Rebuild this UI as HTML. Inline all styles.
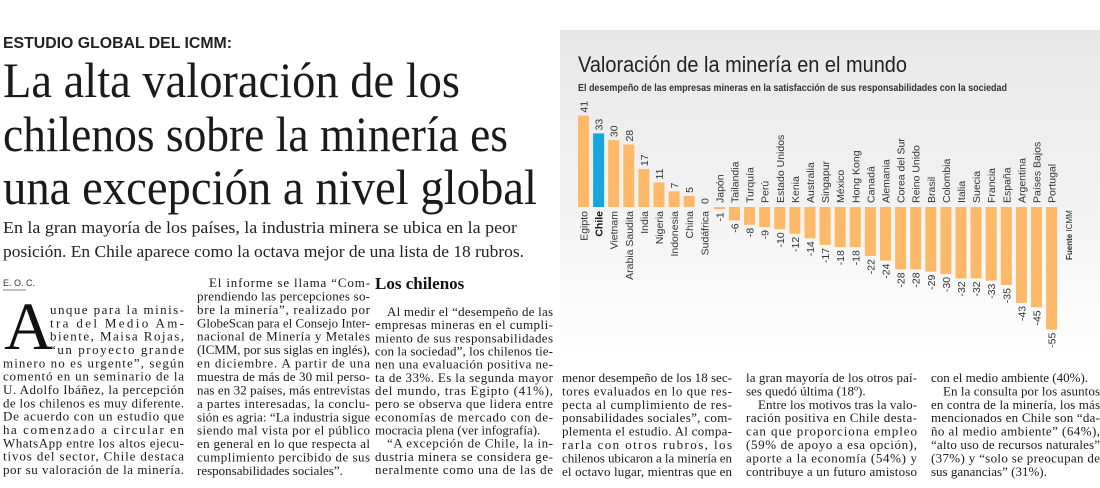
<!DOCTYPE html>
<html><head><meta charset="utf-8">
<style>
html,body{margin:0;padding:0;background:#fff;}
svg{display:block;}
.body{font-family:"Liberation Serif",serif;font-size:13px;fill:#1a1a1a;}
.lbl{font-family:"Liberation Sans",sans-serif;font-size:10.5px;fill:#333;}
</style></head>
<body>
<svg id="page" width="1100" height="488" viewBox="0 0 1100 488" xmlns="http://www.w3.org/2000/svg">
<defs>
<linearGradient id="bg" x1="0" y1="0" x2="0" y2="1">
<stop offset="0" stop-color="#e8e8e8"/><stop offset="0.55" stop-color="#f3f3f3"/><stop offset="1" stop-color="#ffffff"/>
</linearGradient>
</defs>
<text x="3" y="48" textLength="229" lengthAdjust="spacingAndGlyphs" style="font-family:'Liberation Sans',sans-serif;font-weight:bold;font-size:16px;fill:#222">ESTUDIO GLOBAL DEL ICMM:</text>
<g style="font-family:'Liberation Serif',serif;font-size:50px;fill:#1a1a1a">
<text x="3" y="97" textLength="457" lengthAdjust="spacingAndGlyphs">La alta valoración de los</text>
<text x="3" y="151" textLength="505" lengthAdjust="spacingAndGlyphs">chilenos sobre la minería es</text>
<text x="3" y="204" textLength="534" lengthAdjust="spacingAndGlyphs">una excepción a nivel global</text>
</g>
<g style="font-family:'Liberation Serif',serif;font-size:17px;fill:#222">
<text x="3" y="233" textLength="514" lengthAdjust="spacingAndGlyphs">En la gran mayoría de los países, la industria minera se ubica en la peor</text>
<text x="3" y="257" textLength="521" lengthAdjust="spacingAndGlyphs">posición. En Chile aparece como la octava mejor de una lista de 18 rubros.</text>
</g>
<text x="3" y="286" style="font-family:'Liberation Sans',sans-serif;font-size:9px;fill:#333">E. O. C.</text>
<line x1="3" y1="290" x2="26" y2="290" stroke="#555" stroke-width="0.8"/>
<text x="4" y="349" style="font-family:'Liberation Serif',serif;font-size:68px;fill:#111">A</text>
<text x="375" y="289" style="font-family:'Liberation Serif',serif;font-weight:bold;font-size:17px;fill:#111">Los chilenos</text>
<rect x="560" y="30" width="540" height="330" fill="url(#bg)"/>
<text x="578" y="72" textLength="329" lengthAdjust="spacingAndGlyphs" style="font-family:'Liberation Sans',sans-serif;font-size:22px;fill:#222">Valoración de la minería en el mundo</text>
<text x="578" y="91" textLength="429" lengthAdjust="spacingAndGlyphs" style="font-family:'Liberation Sans',sans-serif;font-weight:bold;font-size:10px;fill:#333">El desempeño de las empresas mineras en la satisfacción de sus responsabilidades con la sociedad</text>
<g id="bars"></g>
<text transform="translate(1072,260) rotate(-90)" style="font-family:'Liberation Sans',sans-serif;font-size:8px;fill:#333"><tspan font-weight="bold">Fuente</tspan> ICMM</text>
<g id="cols" class="body"></g>
</svg>
<script>
const countries = ["Egipto","Chile","Vietnam","Arabia Saudita","India","Nigeria","Indonesia","China","Sudáfrica","Japón","Tailandia","Turquía","Perú","Estado Unidos","Kenia","Australia","Singapur","México","Hong Kong","Canadá","Alemania","Corea del Sur","Reino Unido","Brasil","Colombia","Italia","Suecia","Francia","España","Argentina","Países Bajos","Portugal"];
const values = [41,33,30,28,17,11,7,5,0,-1,-6,-8,-9,-10,-12,-14,-17,-18,-18,-22,-24,-28,-28,-29,-30,-32,-32,-33,-35,-43,-45,-55];
const highlight = ["Chile"];

const NS = "http://www.w3.org/2000/svg";
const zeroY = 207, unit = 2.23, x0 = 578, pitch = 15.1, bw = 11;
const xPos = i => x0 + i * pitch;
const yPos = v => zeroY - v * unit;
const g = document.getElementById('bars');
function mk(tag, attrs){const e=document.createElementNS(NS,tag);for(const k in attrs)e.setAttribute(k,attrs[k]);return e;}
function rtext(x, y, str, anchor, bold){
  const t = mk('text',{transform:`translate(${x},${y}) rotate(-90)`,'text-anchor':anchor,class:'lbl'});
  if(bold){t.setAttribute('font-weight','bold');t.style.fill='#111';}
  t.textContent = str; return t;
}
countries.forEach((c,i)=>{
  const v = values[i], x = xPos(i), cx = x + bw/2;
  const top = Math.min(yPos(v), zeroY), h = Math.abs(yPos(v) - zeroY);
  const hl = highlight.includes(c);
  const r = mk('rect',{x:x,y:top,width:bw,height:Math.max(h,0),fill: hl ? '#16a5df' : '#fdb968'});
  
  
  g.appendChild(r);
  let vl, cl;
  if (v >= 0) {
    vl = rtext(cx+4, yPos(v)-3, String(v), 'start', false);
    cl = rtext(cx+4, zeroY+4, c, 'end', hl);
  } else {
    vl = rtext(cx+4, yPos(v)+3, String(v), 'end', false);
    cl = rtext(cx+4, zeroY-4, c, 'start', hl);
  }
  
  
  
  
  g.appendChild(vl); g.appendChild(cl);
});

const cols = [
 [50,184,310,13.33,["unque para la minis-","tra del Medio Am-","biente, Maisa Rojas,","“un proyecto grande"]],
 [3,184,363.3,13.33,["minero no es urgente”, según","comentó en un seminario de la","U. Adolfo Ibáñez, la percepción","de los chilenos es muy diferente.","De acuerdo con un estudio que","ha comenzado a circular en","WhatsApp entre los altos ejecu-","tivos del sector, Chile destaca","por su valoración de la minería."]],
 [197,370,283,13.43,[">El informe se llama “Com-","prendiendo las percepciones so-","bre la minería”, realizado por","GlobeScan para el Consejo Inter-","nacional de Minería y Metales","(ICMM, por sus siglas en inglés),","en diciembre. A partir de una","muestra de más de 30 mil perso-","nas en 32 países, más entrevistas","a partes interesadas, la conclu-","sión es agria: “La industria sigue","siendo mal vista por el público","en general en lo que respecta al","cumplimiento percibido de sus","responsabilidades sociales”.|"]],
 [375,553,312,13.17,[">Al medir el “desempeño de las","empresas mineras en el cumpli-","miento de sus responsabilidades","con la sociedad”, los chilenos tie-","nen una evaluación positiva ne-","ta de 33%. Es la segunda mayor","del mundo, tras Egipto (41%),","pero se observa que lidera entre","economías de mercado con de-","mocracia plena (ver infografía).|",">“A excepción de Chile, la in-","dustria minera se considera ge-","neralmente como una de las de"]],
 [562,732,378,13.4,["menor desempeño de los 18 sec-","tores evaluados en lo que res-","pecta al cumplimiento de res-","ponsabilidades sociales”, com-","plementa el estudio. Al compa-","rarla con otros rubros, los","chilenos ubicaron a la minería en","el octavo lugar, mientras que en"]],
 [746,917,378,13.4,["la gran mayoría de los otros paí-","ses quedó última (18º).|",">Entre los motivos tras la valo-","ración positiva en Chile desta-","can que proporciona empleo","(59% de apoyo a esa opción),","aporte a la economía (54%) y","contribuye a un futuro amistoso"]],
 [931,1100,378,13.4,["con el medio ambiente (40%).|",">En la consulta por los asuntos","en contra de la minería, los más","mencionados en Chile son “da-","ño al medio ambiente” (64%),","“alto uso de recursos naturales”","(37%) y “solo se preocupan de","sus ganancias” (31%).|"]]
];
const cg = document.getElementById('cols');
cols.forEach(([x,r,y0,lh,lines])=>{
  lines.forEach((ln,i)=>{
    let s = ln, xx = x, just = true;
    if (s.startsWith('>')) { s = s.slice(1); xx = x + 12; }
    if (s.endsWith('|')) { s = s.slice(0,-1); just = false; }
    const t = mk('text',{x:xx,y:(y0 + i*lh + 4).toFixed(1)});
    if (just) { t.setAttribute('textLength', r - xx); t.setAttribute('lengthAdjust','spacing'); }
    
    
    t.textContent = s;
    cg.appendChild(t);
  });
});
</script>
</body></html>
